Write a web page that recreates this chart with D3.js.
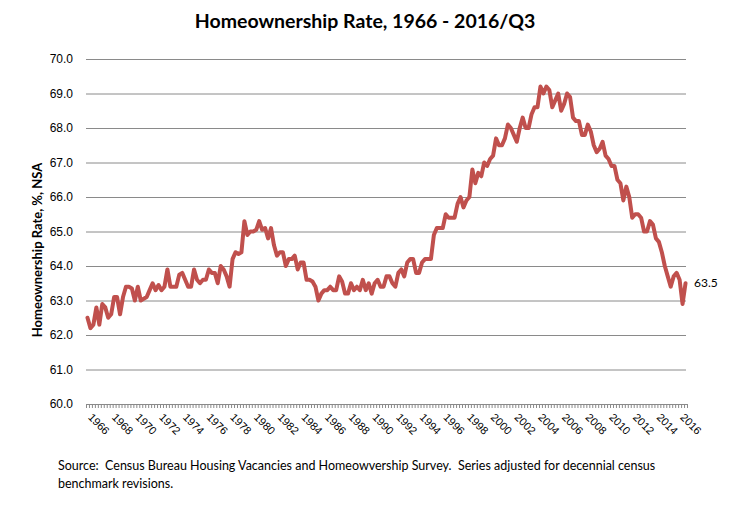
<!DOCTYPE html>
<meta charset="utf-8">
<style>
body { margin: 0; background: #fff; font-family: Lato, "Open Sans", sans-serif; }
.grid line { stroke: #8a8a8a; stroke-width: 1; }
.grid .domain { display: none; }
.ylab text { font-size: 12px; fill: #000; }
.xlab text { font-size: 11px; fill: #000; }
.xticks line, .xticks .domain { stroke: #8a8a8a; }
.line { fill: none; stroke: #c0504d; stroke-width: 4px; stroke-linejoin: round; stroke-linecap: round; }
</style>
<body>
<script src="https://cdnjs.cloudflare.com/ajax/libs/d3/7.8.5/d3.min.js"></script>
<script>
// data: quarterly homeownership rate, 1966Q1 - 2016Q3
var years = d3.range(1966, 2017);
var quarters = ["Q1", "Q2", "Q3", "Q4"];
var rate = [
  62.5, 62.2, 62.3, 62.8,   // 1966
  62.3, 62.9, 62.8, 62.5,   // 1967
  62.6, 63.1, 63.1, 62.6,   // 1968
  63.1, 63.4, 63.4, 63.35,  // 1969
  63.0, 63.4, 63.0, 63.05,  // 1970
  63.1, 63.3, 63.5, 63.3,   // 1971
  63.45, 63.3, 63.4, 63.9,  // 1972
  63.4, 63.4, 63.4, 63.75,  // 1973
  63.8, 63.6, 63.4, 63.4,   // 1974
  63.9, 63.6, 63.5, 63.6,   // 1975
  63.6, 63.9, 63.8, 63.8,   // 1976
  63.5, 64.0, 63.9, 63.7,   // 1977
  63.4, 64.2, 64.4, 64.35,  // 1978
  64.4, 65.3, 64.9, 65.0,   // 1979
  65.0, 65.05, 65.3, 65.05, // 1980
  65.1, 64.8, 65.1, 64.6,   // 1981
  64.3, 64.4, 64.4, 64.0,   // 1982
  64.2, 64.2, 64.3, 63.9,   // 1983
  64.1, 64.1, 63.6, 63.6,   // 1984
  63.55, 63.4, 63.0, 63.2,  // 1985
  63.3, 63.3, 63.4, 63.3,   // 1986
  63.3, 63.7, 63.55, 63.2,  // 1987
  63.2, 63.5, 63.3, 63.4,   // 1988
  63.3, 63.6, 63.3, 63.5,   // 1989
  63.2, 63.5, 63.6, 63.4,   // 1990
  63.4, 63.7, 63.7, 63.5,   // 1991
  63.4, 63.8, 63.9, 63.7,   // 1992
  64.1, 64.2, 64.2, 63.8,   // 1993
  63.8, 64.1, 64.2, 64.2,   // 1994
  64.2, 64.9, 65.1, 65.1,   // 1995
  65.1, 65.5, 65.4, 65.4,   // 1996
  65.4, 65.8, 66.0, 65.7,   // 1997
  65.9, 66.0, 66.8, 66.4,   // 1998
  66.7, 66.6, 67.0, 66.9,   // 1999
  67.1, 67.2, 67.7, 67.5,   // 2000
  67.5, 67.7, 68.1, 68.0,   // 2001
  67.8, 67.6, 68.0, 68.3,   // 2002
  68.0, 68.0, 68.4, 68.6,   // 2003
  68.6, 69.2, 69.0, 69.2,   // 2004
  69.1, 68.6, 68.8, 69.0,   // 2005
  68.5, 68.7, 69.0, 68.9,   // 2006
  68.3, 68.2, 68.2, 67.8,   // 2007
  67.8, 68.1, 67.9, 67.5,   // 2008
  67.3, 67.4, 67.6, 67.2,   // 2009
  67.1, 66.9, 66.9, 66.5,   // 2010
  66.4, 65.9, 66.3, 66.0,   // 2011
  65.4, 65.5, 65.5, 65.4,   // 2012
  65.0, 65.0, 65.3, 65.2,   // 2013
  64.8, 64.7, 64.4, 64.0,   // 2014
  63.7, 63.4, 63.7, 63.8,   // 2015
  63.6, 62.9, 63.5          // 2016
];
var yTicks = [60, 61, 62, 63, 64, 65, 66, 67, 68, 69, 70];
var tickYears = ["1966","1968","1970","1972","1974","1976","1978","1980","1982","1984","1986","1988","1990","1992",
                 "1994","1996","1998","2000","2002","2004","2006","2008","2010","2012","2014","2016"];

// categories like "1966Q1"
var cats = [];
years.forEach(function(yr) {
  quarters.forEach(function(q) { cats.push(yr + q); });
});
cats = cats.slice(0, rate.length);

var W = 731, H = 507;
var margin = {left: 86, right: 687, top: 59, bottom: 404};

var svg = d3.select("body").append("svg")
    .attr("width", W)
    .attr("height", H);

var x = d3.scaleBand().domain(cats).range([margin.left, margin.right]).padding(0);
var y = d3.scaleLinear().domain([60, 70]).range([margin.bottom, margin.top]);

// gridlines
svg.append("g")
    .attr("class", "grid")
    .attr("transform", "translate(" + margin.left + ",0)")
    .call(d3.axisLeft(y).tickValues(yTicks).tickSize(-(margin.right - 1 - margin.left)).tickFormat(""));

// y labels
var yl = svg.append("g")
    .attr("class", "ylab")
    .attr("transform", "translate(73,0)")
    .call(d3.axisLeft(y).tickValues(yTicks).tickSize(0).tickPadding(0).tickFormat(d3.format(".1f")));
yl.select(".domain").remove();

// tick marks between categories
var xb = d3.scaleLinear().domain([0, cats.length]).range([margin.left, margin.right]);
svg.append("g")
    .attr("class", "xticks")
    .attr("transform", "translate(0," + margin.bottom + ")")
    .call(d3.axisBottom(xb).tickValues(d3.range(0, cats.length + 1)).tickSize(4).tickSizeOuter(0).tickFormat(""));

// year labels, rotated
var xl = svg.append("g")
    .attr("class", "xlab")
    .attr("transform", "translate(0," + margin.bottom + ")")
    .call(d3.axisBottom(x)
      .tickValues(tickYears.map(function(t) { return t + "Q1"; }))
      .tickSize(0)
      .tickFormat(function(d) { return d.slice(0, 4); }));
xl.select(".domain").remove();
xl.selectAll("text")
    .attr("text-anchor", "start")
    .attr("dy", null)
    .attr("y", 0)
    .attr("transform", "translate(0,14) rotate(45)");

// the series
var line = d3.line()
    .x(function(d, i) { return x(cats[i]) + x.bandwidth() / 2; })
    .y(function(d) { return y(d); });

svg.append("path")
    .datum(rate)
    .attr("class", "line")
    .attr("d", line);

// last value label
var last = rate.length - 1;
svg.append("text")
    .attr("x", x(cats[last]) + 10)
    .attr("y", y(rate[last]) + 4)
    .style("font-size", "12px")
    .text(d3.format(".1f")(rate[last]));

// title
svg.append("text")
    .attr("x", 365)
    .attr("y", 28)
    .attr("text-anchor", "middle")
    .style("font-size", "19.5px")
    .style("font-weight", "bold")
    .text("Homeownership Rate, 1966 - 2016/Q3");

// y axis title
svg.append("text")
    .attr("transform", "translate(42,250) rotate(-90)")
    .attr("text-anchor", "middle")
    .style("font-size", "13px")
    .style("font-weight", "bold")
    .text("Homeownership Rate, %, NSA");

// source note
var note = svg.append("text")
    .attr("x", 58)
    .attr("y", 470)
    .style("font-size", "12.5px")
    .style("white-space", "pre");
note.append("tspan").attr("x", 58).text("Source:  Census Bureau Housing Vacancies and Homeowvership Survey.  Series adjusted for decennial census");
note.append("tspan").attr("x", 58).attr("dy", 18).text("benchmark revisions.");
</script>
</body>
